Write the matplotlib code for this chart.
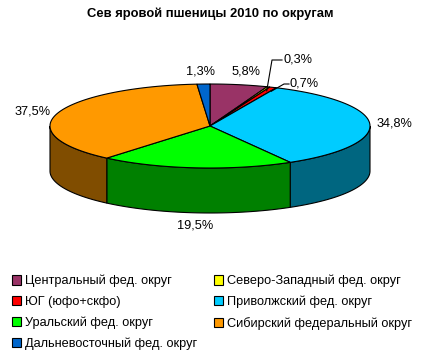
import numpy as np
import matplotlib.pyplot as plt
from matplotlib.patches import Polygon, Patch
from matplotlib.colors import to_rgb

plt.rcParams['font.family'] = ['Liberation Sans', 'DejaVu Sans']

# data
title = 'Сев яровой пшеницы 2010 по округам'
regions = ['Центральный фед. округ', 'Северо-Западный фед. округ',
           'ЮГ (юфо+скфо)', 'Приволжский фед. округ',
           'Уральский фед. округ', 'Сибирский федеральный округ',
           'Дальневосточный фед. округ']
shares = [5.8, 0.3, 0.7, 34.8, 19.5, 37.5, 1.3]
colors = ['#993366', '#FFFF00', '#FF0000', '#00CCFF',
          '#00FF00', '#FF9900', '#0066CC']

# pie geometry in pixels (axes spans the whole figure)
cx, cy = 210, 126
rx, ry = 160, 42
depth = 45
gap = 7

fig = plt.figure(figsize=(4.24, 3.56), dpi=100)
ax = fig.add_axes([0, 0, 1, 1])
ax.set_xlim(0, 424)
ax.set_ylim(356, 0)
ax.axis('off')


def rim(theta, dy=0, sx=1.0, sy=1.0):
    t = np.radians(theta)
    return cx + rx * sx * np.sin(t), cy - ry * sy * np.cos(t) + dy


bounds = np.cumsum([0] + shares) / sum(shares) * 360

# side walls (front half only)
for i, c in enumerate(colors):
    lo, hi = max(bounds[i], 90), min(bounds[i + 1], 270)
    if lo >= hi:
        continue
    th = np.linspace(lo, hi, 80)
    xt, yt = rim(th)
    xb, yb = rim(th, depth)
    pts = np.column_stack([np.r_[xt, xb[::-1]], np.r_[yt, yb[::-1]]])
    dark = tuple(v * 0.5 for v in to_rgb(c))
    ax.add_patch(Polygon(pts, closed=True, facecolor=dark,
                         edgecolor='black', lw=0.8))

# top faces
for i, c in enumerate(colors):
    th = np.linspace(bounds[i], bounds[i + 1], 120)
    xt, yt = rim(th)
    pts = np.column_stack([np.r_[cx, xt], np.r_[cy, yt]])
    ax.add_patch(Polygon(pts, closed=True, facecolor=c,
                         edgecolor='black', lw=0.8))


def fmt(v):
    return f'{v:.1f}'.replace('.', ',') + '%'


# data labels (small slices get a leader line)
leaders = {1: (272, 60, 283), 2: (284, 84, 290)}
nudge = {0: 6, 6: -3}
for i, v in enumerate(shares):
    mid = (bounds[i] + bounds[i + 1]) / 2
    s, co = np.sin(np.radians(mid)), np.cos(np.radians(mid))
    if i in leaders:
        lx, ly, tx = leaders[i]
        x0, y0 = rim(mid, sx=0.97, sy=0.9)
        ax.plot([x0, lx, tx - 1], [y0, ly, ly], color='black', lw=0.8)
        ax.text(tx, ly, fmt(v), ha='left', va='center', fontsize=9.2)
        continue
    x, y = rim(mid, depth if co < 0 else 0, (rx + gap) / rx, (ry + gap) / ry)
    ha = 'left' if s > 0.5 else ('right' if s < -0.5 else 'center')
    va = 'bottom' if co > 0.5 else ('top' if co < -0.5 else 'center')
    ax.text(x + nudge.get(i, 0), y, fmt(v), ha=ha, va=va, fontsize=9.2)

ax.text(210, 14, title, ha='center', va='center', fontsize=9.4,
        fontweight='bold')

handles = [Patch(facecolor=c, edgecolor='black', lw=0.8) for c in colors]
order = [0, 2, 4, 6, 1, 3, 5]
ax.legend([handles[k] for k in order], [regions[k] for k in order],
          ncol=2, loc='upper left', bbox_to_anchor=(0.028, 0.228),
          frameon=False, fontsize=9.2, handlelength=0.75, handleheight=0.75,
          handletextpad=0.3, columnspacing=1.25, labelspacing=0.66,
          borderpad=0, borderaxespad=0)

fig.savefig('out.png', dpi=100)
